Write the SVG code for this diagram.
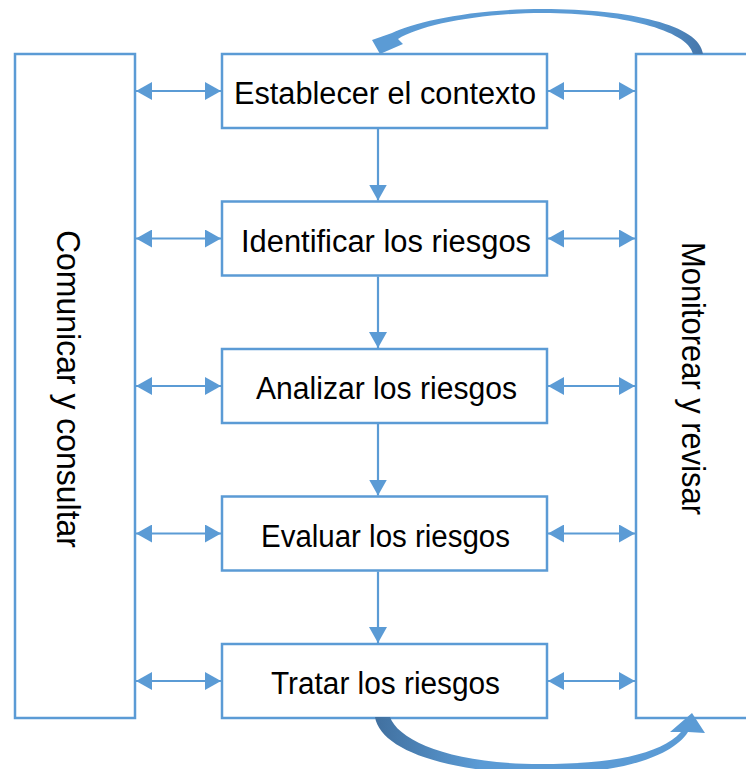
<svg xmlns="http://www.w3.org/2000/svg" width="746" height="769" viewBox="0 0 746 769">
<style>
.box{fill:#fff;stroke:#5B9BD5;stroke-width:2.5}
.lbl{font-family:"Liberation Sans",Arial,sans-serif;font-size:31px;fill:#000;text-anchor:middle}
.ln{stroke:#5B9BD5;stroke-width:2.2;fill:none}
</style>
<defs>
<marker id="a" viewBox="0 0 16 18" refX="16" refY="9" markerWidth="16" markerHeight="18" markerUnits="userSpaceOnUse" orient="auto-start-reverse">
<path d="M0 0 L16 9 L0 18 Z" fill="#5B9BD5"/>
</marker>
<linearGradient id="gt" gradientUnits="userSpaceOnUse" x1="640" y1="0" x2="703" y2="0">
<stop offset="0" stop-color="#5B9BD5"/><stop offset="1" stop-color="#4576AA"/>
</linearGradient>
<linearGradient id="gb" gradientUnits="userSpaceOnUse" x1="375" y1="0" x2="480" y2="0">
<stop offset="0" stop-color="#41709F"/><stop offset="1" stop-color="#5B9BD5"/>
</linearGradient>
</defs>
<g id="comunicar">
<rect class="box" x="15" y="54" width="120" height="664"/>
<text class="lbl" font-size="33" transform="translate(57,389) rotate(90) scale(1,1.1)" textLength="318" lengthAdjust="spacingAndGlyphs">Comunicar y consultar</text>
</g>
<g id="monitorear">
<rect class="box" x="636" y="54" width="130" height="664"/>
<text class="lbl" font-size="33" transform="translate(682,378.5) rotate(90) scale(1,1.1)" textLength="273" lengthAdjust="spacingAndGlyphs">Monitorear y revisar</text>
</g>
<g id="establecer">
<rect class="box" x="222" y="54" width="325" height="74"/>
<text class="lbl" x="385" y="104" textLength="302" lengthAdjust="spacingAndGlyphs">Establecer el contexto</text>
</g>
<g id="identificar">
<rect class="box" x="222" y="201.5" width="325" height="74"/>
<text class="lbl" x="386" y="251.5" textLength="290" lengthAdjust="spacingAndGlyphs">Identificar los riesgos</text>
</g>
<g id="analizar">
<rect class="box" x="222" y="349" width="325" height="74"/>
<text class="lbl" x="386.5" y="399" textLength="261" lengthAdjust="spacingAndGlyphs">Analizar los riesgos</text>
</g>
<g id="evaluar">
<rect class="box" x="222" y="496.5" width="325" height="74"/>
<text class="lbl" x="385.5" y="546.5" textLength="249" lengthAdjust="spacingAndGlyphs">Evaluar los riesgos</text>
</g>
<g id="tratar">
<rect class="box" x="222" y="644" width="325" height="74"/>
<text class="lbl" x="385.5" y="694" textLength="229" lengthAdjust="spacingAndGlyphs">Tratar los riesgos</text>
</g>
<g id="connectors">
<line class="ln" x1="136" y1="91" x2="221" y2="91" marker-start="url(#a)" marker-end="url(#a)"/>
<line class="ln" x1="136" y1="238.5" x2="221" y2="238.5" marker-start="url(#a)" marker-end="url(#a)"/>
<line class="ln" x1="136" y1="386" x2="221" y2="386" marker-start="url(#a)" marker-end="url(#a)"/>
<line class="ln" x1="136" y1="533.5" x2="221" y2="533.5" marker-start="url(#a)" marker-end="url(#a)"/>
<line class="ln" x1="136" y1="681" x2="221" y2="681" marker-start="url(#a)" marker-end="url(#a)"/>
<line class="ln" x1="548" y1="91" x2="635" y2="91" marker-start="url(#a)" marker-end="url(#a)"/>
<line class="ln" x1="548" y1="238.5" x2="635" y2="238.5" marker-start="url(#a)" marker-end="url(#a)"/>
<line class="ln" x1="548" y1="386" x2="635" y2="386" marker-start="url(#a)" marker-end="url(#a)"/>
<line class="ln" x1="548" y1="533.5" x2="635" y2="533.5" marker-start="url(#a)" marker-end="url(#a)"/>
<line class="ln" x1="548" y1="681" x2="635" y2="681" marker-start="url(#a)" marker-end="url(#a)"/>
<line class="ln" x1="378" y1="129" x2="378" y2="200.5" marker-end="url(#a)"/>
<line class="ln" x1="378" y1="276.5" x2="378" y2="348" marker-end="url(#a)"/>
<line class="ln" x1="378" y1="424" x2="378" y2="495.5" marker-end="url(#a)"/>
<line class="ln" x1="378" y1="571.5" x2="378" y2="643" marker-end="url(#a)"/>
<path fill="url(#gt)" d="M 703 54 C 700 25, 630 9, 543 9 C 470 9, 415 22, 392 33 L 372 40 L 380 54 L 403 44 L 398 39 C 420 25, 480 13, 543 13 C 620 13, 688 30, 693 54 Z"/>
<path fill="url(#gb)" d="M 375 717 C 380 748, 440 772, 540 774 C 610 774, 670 760, 688 732 L 705 733 L 692 713 L 670 732 L 681 732 C 660 755, 610 764, 540 764 C 450 764, 398 740, 390 717 Z"/>
</g>
</svg>
